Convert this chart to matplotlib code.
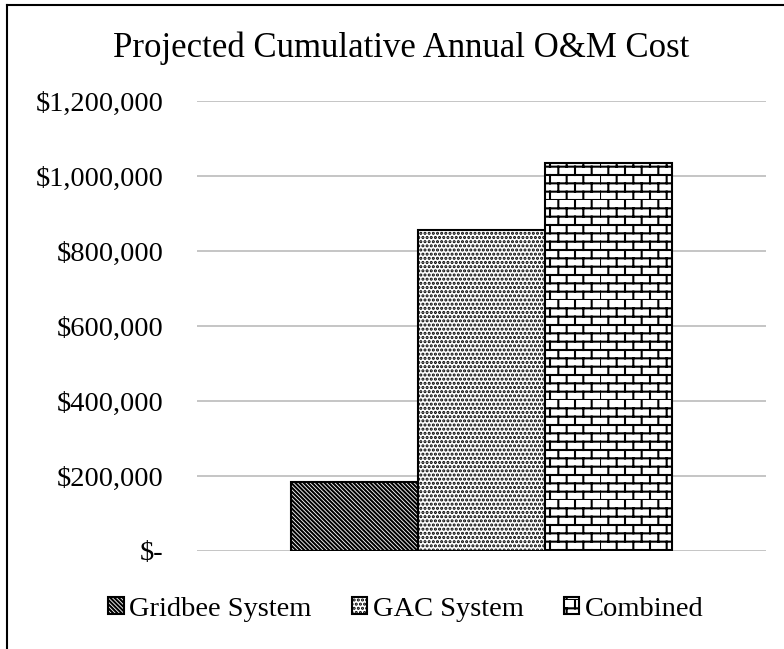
import warnings

import numpy as np
import matplotlib
matplotlib.use("Agg")
import matplotlib.pyplot as plt
import matplotlib.hatch as mhatch
from matplotlib.lines import Line2D
from matplotlib.path import Path
from matplotlib.ticker import FuncFormatter

warnings.filterwarnings("ignore")

# Data
systems = ["Gridbee System", "GAC System", "Combined"]
costs = [183000, 855000, 1035000]
hatches = ["\\" * 8, "....", "b"]
y_ticks = [0, 200000, 400000, 600000, 800000, 1000000, 1200000]


class BrickHatch(mhatch.HatchPatternBase):
    """Brick wall pattern, selected with the 'b' hatch character."""

    def __init__(self, hatch, density):
        self.rows = int(hatch.count('b') * density * 2)
        self.cols = self.rows // 2
        self.num_vertices = (self.rows + self.rows * self.cols) * 2

    def set_vertices_and_codes(self, vertices, codes):
        n, m = self.rows, self.cols
        k = 0
        for i in range(n):
            y0, y1 = i / n, (i + 1) / n
            vertices[k] = (0.0, y0)
            vertices[k + 1] = (1.0, y0)
            k += 2
            shift = 0.5 * (i % 2)
            for j in range(m):
                x = (j + shift) / m
                vertices[k] = (x, y0)
                vertices[k + 1] = (x, y1)
                k += 2
        codes[0::2] = Path.MOVETO
        codes[1::2] = Path.LINETO


mhatch._hatch_types.append(BrickHatch)

plt.rcParams['font.family'] = ['Liberation Serif', 'DejaVu Serif']
plt.rcParams['hatch.linewidth'] = 1.5
plt.rcParams['hatch.color'] = 'black'

fig = plt.figure(figsize=(7.84, 6.49), dpi=100)
ax = fig.add_axes([197 / 784, 1 - 551 / 649, 569 / 784, 450 / 649])

x = np.arange(len(systems))
for i in range(len(systems)):
    ax.bar(x[i], costs[i], width=1.0, facecolor='white', edgecolor='black',
           linewidth=1.5, hatch=hatches[i], label=systems[i], zorder=3)

ax.set_xlim(-0.5 - 0.745, len(systems) - 0.5 + 0.745)
ax.set_ylim(0, 1200000)
ax.set_yticks(y_ticks)
ax.yaxis.set_major_formatter(
    FuncFormatter(lambda v, pos: "$-" if v == 0 else f"${v:,.0f}"))
ax.tick_params(axis='y', length=0, pad=24, labelsize=20.5)
ax.set_xticks([])
ax.yaxis.grid(True, color='#c0c0c0', linewidth=1.3, zorder=0)
for side in ax.spines.values():
    side.set_visible(False)

fig.text(401 / 784, 1 - 57 / 649, "Projected Cumulative Annual O&M Cost",
         ha='center', va='baseline', fontsize=25)

fig.legend(loc='center', bbox_to_anchor=(406 / 784, 1 - 609 / 649), ncol=3,
           frameon=False, fontsize=20.5, handlelength=0.55, handleheight=0.55,
           handletextpad=0.2, columnspacing=1.4, borderaxespad=0)

# chart border (left and top edges only)
fig.add_artist(Line2D([7 / 784, 7 / 784], [0, 1 - 5 / 649], color='black', linewidth=1.5))
fig.add_artist(Line2D([7 / 784, 1], [1 - 5 / 649, 1 - 5 / 649], color='black', linewidth=1.5))

fig.savefig("out.png", dpi=100)
